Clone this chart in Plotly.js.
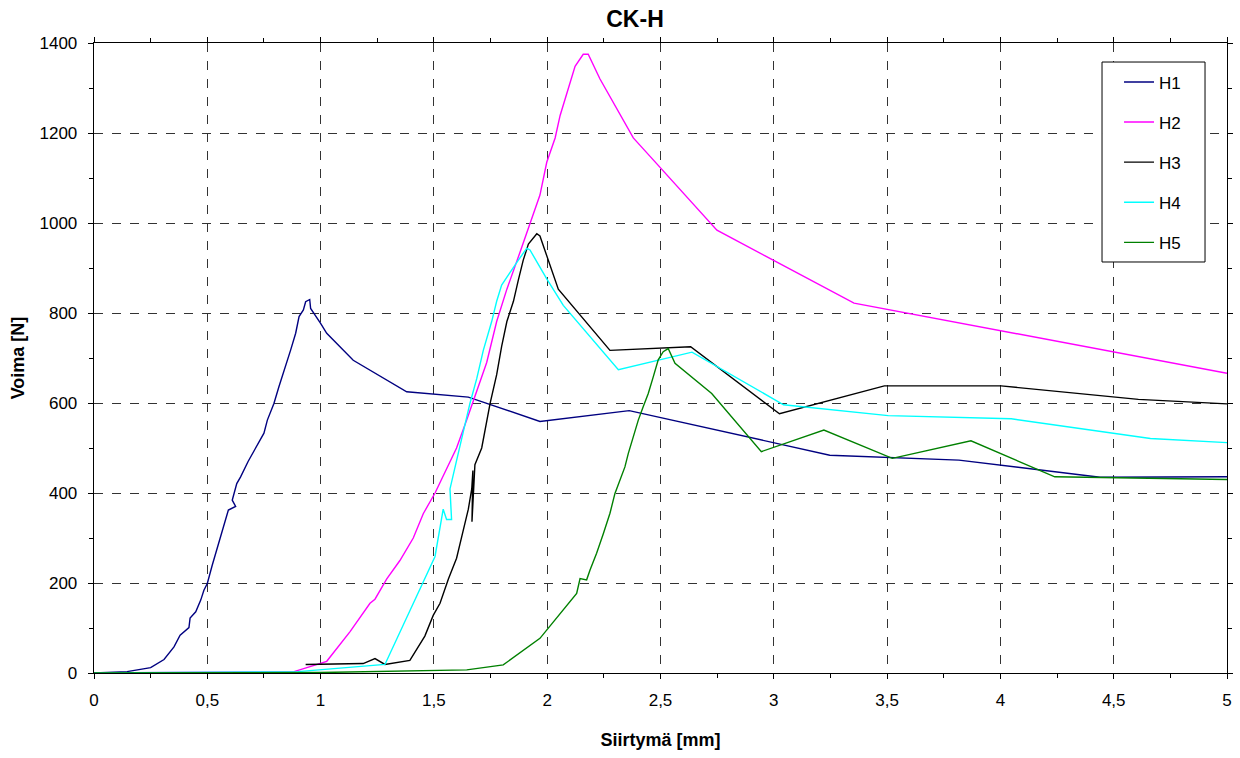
<!DOCTYPE html>
<html>
<head>
<meta charset="utf-8">
<script src="https://cdn.plot.ly/plotly-3.0.1.min.js"></script>
<style>html,body{margin:0;padding:0;background:#fff}#chart{width:1240px;height:758px}</style>
</head>
<body>
<div id="chart"></div>
<script>
const seriesNames = ["H1", "H2", "H3", "H4", "H5"];
const seriesColors = ["#000080", "#FF00FF", "#000000", "#00FFFF", "#008000"];

const h1X = [0, 0.146, 0.25, 0.309, 0.353, 0.38, 0.419, 0.424, 0.449, 0.471, 0.485, 0.5, 0.522, 0.547, 0.559, 0.585, 0.593, 0.625, 0.61, 0.63, 0.647, 0.68, 0.733, 0.75, 0.765, 0.794, 0.816, 0.846, 0.868, 0.89, 0.905, 0.924, 0.934, 0.952, 0.956, 1.0, 1.027, 1.144, 1.38, 1.652, 1.968, 2.362, 3.247, 3.817, 4.44, 5.0];
const h1Y = [0, 3, 12, 30, 58, 84, 101, 122, 136, 162, 184, 199, 240, 281, 303, 347, 362, 370, 384, 421, 436, 470, 518, 533, 562, 599, 636, 681, 718, 755, 792, 807, 825, 830, 810, 777, 755, 695, 625, 613, 559, 583, 484, 473, 435, 436];

const h2X = [0, 0.883, 1.027, 1.13, 1.218, 1.24, 1.292, 1.35, 1.409, 1.453, 1.505, 1.556, 1.6, 1.645, 1.689, 1.733, 1.777, 1.822, 1.88, 1.924, 1.968, 1.998, 2.035, 2.057, 2.093, 2.123, 2.159, 2.181, 2.233, 2.38, 2.454, 2.749, 3.354, 5.0];
const h2Y = [0, 3, 26, 92, 155, 164, 209, 250, 300, 354, 400, 454, 500, 563, 627, 690, 781, 853, 935, 998, 1062, 1135, 1189, 1239, 1298, 1348, 1375, 1375, 1320, 1189, 1148, 984, 822, 666];

const h3X = [0.934, 1.188, 1.24, 1.284, 1.394, 1.46, 1.497, 1.527, 1.564, 1.6, 1.63, 1.652, 1.667, 1.672, 1.668, 1.681, 1.711, 1.748, 1.777, 1.799, 1.822, 1.851, 1.872, 1.894, 1.917, 1.94, 1.954, 1.968, 2.049, 2.277, 2.633, 3.025, 3.488, 4.003, 4.609, 5.0];
const h3Y = [19, 21, 32, 19, 28, 82, 128, 155, 209, 255, 318, 364, 409, 450, 336, 463, 500, 599, 663, 726, 781, 826, 872, 917, 953, 967, 976, 971, 853, 717, 725, 576, 638, 638, 608, 598];

const h4X = [0, 0.9, 1.284, 1.505, 1.541, 1.556, 1.578, 1.571, 1.6, 1.63, 1.659, 1.689, 1.718, 1.755, 1.777, 1.799, 1.828, 1.872, 1.91, 1.924, 1.998, 2.071, 2.314, 2.639, 3.043, 3.505, 4.048, 4.662, 5.0];
const h4Y = [0, 3, 19, 259, 364, 341, 341, 409, 472, 536, 599, 654, 717, 781, 826, 862, 885, 917, 944, 940, 876, 817, 674, 713, 596, 572, 565, 521, 512];

const h5X = [0, 1.0, 1.645, 1.806, 1.968, 2.13, 2.145, 2.174, 2.189, 2.218, 2.248, 2.277, 2.299, 2.321, 2.343, 2.358, 2.38, 2.402, 2.424, 2.446, 2.468, 2.49, 2.512, 2.534, 2.564, 2.726, 2.945, 3.221, 3.523, 3.87, 4.24, 5.0];
const h5Y = [0, 1, 7, 18, 77, 177, 210, 207, 229, 266, 310, 355, 399, 429, 458, 488, 525, 562, 592, 621, 658, 696, 714, 721, 688, 621, 492, 540, 477, 516, 436, 430];

const xTickVals = [0, 0.5, 1, 1.5, 2, 2.5, 3, 3.5, 4, 4.5, 5];
const xTickText = ["0", "0,5", "1", "1,5", "2", "2,5", "3", "3,5", "4", "4,5", "5"];
const yTickVals = [0, 200, 400, 600, 800, 1000, 1200, 1400];

const allX = [h1X, h2X, h3X, h4X, h5X];
const allY = [h1Y, h2Y, h3Y, h4Y, h5Y];

const traces = seriesNames.map((n, i) => ({
  x: allX[i], y: allY[i], name: n, type: 'scatter', mode: 'lines',
  line: {color: seriesColors[i], width: 1.4},
  legendgroup: n
}));

const fam = '"Liberation Sans", Arial, sans-serif';

const layout = {
  width: 1240, height: 758,
  margin: {l: 94, r: 13, t: 43, b: 85},
  paper_bgcolor: '#fff', plot_bgcolor: '#fff',
  font: {family: fam, color: '#000', size: 17},
  title: {text: '<b>CK-H</b>', x: 0.4775, xref: 'paper', xanchor: 'center', yref: 'container', y: 0.975, yanchor: 'middle', font: {family: fam, size: 23, color: '#000'}},
  xaxis: {
    range: [0, 5], tickvals: xTickVals, ticktext: xTickText,
    showline: true, linecolor: '#000', linewidth: 1.3, mirror: 'ticks',
    ticks: 'outside', ticklen: 5, tickcolor: '#000',
    minor: {dtick: 0.25, ticks: 'outside', ticklen: 4, tickcolor: '#000', showgrid: false},
    showgrid: true, gridcolor: '#333', griddash: 'dash', gridwidth: 1,
    zeroline: false, ticklabelstandoff: 6,
    tickfont: {family: fam, size: 17, color: '#000'},
    title: {text: '<b>Siirtymä [mm]</b>', font: {family: fam, size: 18, color: '#000'}, standoff: 24}
  },
  yaxis: {
    range: [0, 1400], tickvals: yTickVals,
    showline: true, linecolor: '#000', linewidth: 1.3, mirror: 'ticks',
    ticks: 'outside', ticklen: 5, tickcolor: '#000',
    minor: {dtick: 100, ticks: 'outside', ticklen: 4, tickcolor: '#000', showgrid: false},
    showgrid: true, gridcolor: '#333', griddash: 'dash', gridwidth: 1,
    zeroline: false, ticklabelstandoff: 7,
    tickfont: {family: fam, size: 17, color: '#000'},
    title: {text: '<b>Voima [N]</b>', font: {family: fam, size: 18, color: '#000'}, standoff: 10}
  },
  shapes: [{
    type: 'rect', xref: 'paper', yref: 'paper', layer: 'above',
    x0: 0.8897, x1: 0.9806, y0: 0.6524, y1: 0.9698,
    line: {color: '#000', width: 1}, fillcolor: '#fff'
  }],
  legend: {
    x: 0.9047, y: 0.966, xanchor: 'left', yanchor: 'top',
    bgcolor: 'rgba(0,0,0,0)', borderwidth: 0,
    font: {family: fam, size: 17, color: '#000'},
    tracegroupgap: 15, itemwidth: 30
  },
  showlegend: true
};

Plotly.newPlot('chart', traces, layout, {displayModeBar: false, staticPlot: true});
</script>
</body>
</html>
